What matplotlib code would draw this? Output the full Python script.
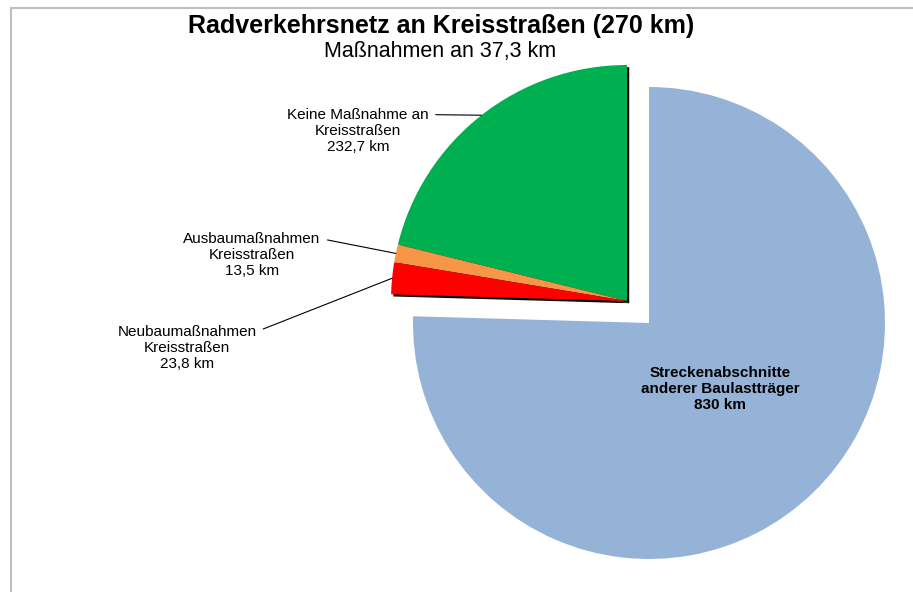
import numpy as np
import matplotlib.pyplot as plt
import matplotlib.patheffects as pe
from matplotlib.patches import Rectangle

plt.rcParams['font.family'] = ['Liberation Sans', 'DejaVu Sans']

# ---------- Daten ----------
kategorien = ['Keine Maßnahme an\nKreisstraßen',
              'Ausbaumaßnahmen\nKreisstraßen',
              'Neubaumaßnahmen\nKreisstraßen',
              'Streckenabschnitte\nanderer Baulastträger']
werte_km = [232.7, 13.5, 23.8, 830]
werte_text = ['232,7 km', '13,5 km', '23,8 km', '830 km']
farben = ['#00B050', '#F79646', '#FF0000', '#95B3D7']

titel = 'Radverkehrsnetz an Kreisstraßen (270 km)'
untertitel = 'Maßnahmen an 37,3 km'

# ---------- Layout (Pixel) ----------
W, H = 913, 592
cx, cy, r = 649, 323, 236      # Mittelpunkt und Radius der Torte
versatz = 22                   # Verschiebung der herausgezogenen Stücke
label_pos = [(358, 131), (252, 255), (187, 348)]


def px(x, y):
    return ((x - cx) / r, (cy - y) / r)


fig = plt.figure(figsize=(W / 100, H / 100), dpi=100)
ax = fig.add_axes([0, 0, 1, 1])

wedges, _ = ax.pie(werte_km, colors=farben, startangle=90, counterclock=True,
                   radius=1, wedgeprops=dict(linewidth=0))

ax.set_xlim(-cx / r, (W - cx) / r)
ax.set_ylim(-(H - cy) / r, cy / r)
ax.set_aspect('equal')
ax.axis('off')

dx, dy = -versatz / r, versatz / r
schatten = [pe.SimplePatchShadow(offset=(1.6, -1.6), shadow_rgbFace='black', alpha=1),
            pe.Normal()]

for i, w in enumerate(wedges[:3]):
    w.set_center((dx, dy))
    w.set_path_effects(schatten)
    mitte = np.deg2rad((w.theta1 + w.theta2) / 2)
    ziel = (dx + np.cos(mitte), dy + np.sin(mitte))
    ax.annotate(kategorien[i] + '\n' + werte_text[i], xy=ziel,
                xytext=px(*label_pos[i]), ha='center', va='center',
                fontsize=11, linespacing=1.22,
                arrowprops=dict(arrowstyle='-', color='black', lw=0.8,
                                relpos=(1, 0.85), shrinkA=3, shrinkB=0))

ax.text(*px(720, 389), kategorien[3] + '\n' + werte_text[3], ha='center', va='center',
        fontsize=11, fontweight='bold', linespacing=1.22)

# Titel
fig.text(441 / W, 1 - 26 / H, titel, ha='center', va='center',
         fontsize=18, fontweight='bold')
fig.text(440 / W, 1 - 52 / H, untertitel, ha='center', va='center', fontsize=15.5)

# Rahmen (rechts und unten abgeschnitten)
fig.add_artist(Rectangle((11 / W, -0.1), 1.2, (H - 8) / H + 0.1,
                         transform=fig.transFigure, fill=False,
                         edgecolor='#BFBFBF', lw=1.5))

fig.savefig('out.png', dpi=100)
